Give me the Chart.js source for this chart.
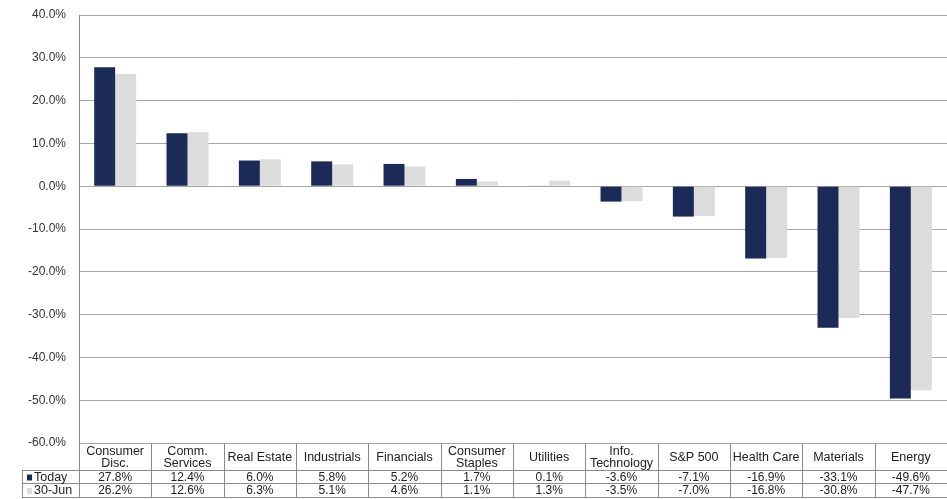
<!DOCTYPE html>
<html>
<head>
<meta charset="utf-8">
<script src="https://cdn.jsdelivr.net/npm/chart.js@4"></script>
<style>
  html, body { margin: 0; padding: 0; background: #fff; }
  #wrap { width: 947px; height: 499px; }
</style>
</head>
<body>
<div id="wrap"><canvas id="myChart" width="947" height="499"></canvas></div>
<script>
// categorias y valores
const categories = [
    ['Consumer', 'Disc.'], ['Comm.', 'Services'], 'Real Estate', 'Industrials', 'Financials',
    ['Consumer', 'Staples'], 'Utilities', ['Info.', 'Technology'], 'S&P 500', 'Health Care',
    'Materials', 'Energy'
];
const todayValues = [27.8, 12.4, 6.0, 5.8, 5.2, 1.7, 0.1, -3.6, -7.1, -16.9, -33.1, -49.6];
const juneValues = [26.2, 12.6, 6.3, 5.1, 4.6, 1.1, 1.3, -3.5, -7.0, -16.8, -30.8, -47.7];
const seriesNames = ['Today', '30-Jun'];
const yTicks = [40, 30, 20, 10, 0, -10, -20, -30, -40, -50, -60];

const NAVY = '#1b2a57';
const GREY = '#dcdcdc';
const FONT = '"Liberation Sans", Arial, sans-serif';

// tabla de datos debajo del grafico
const dataTable = {
    id: 'dataTable',
    afterDraw(chart) {
        const ctx = chart.ctx;
        const area = chart.chartArea;
        const x = chart.scales.x;
        const n = categories.length;
        const colW = (area.right - area.left) / n;
        const top = area.bottom;
        const headBottom = top + 27;
        const row1 = headBottom + 13;
        const row2 = row1 + 14;
        const legendLeft = 22;

        ctx.save();
        ctx.strokeStyle = '#8c8c8c';
        ctx.lineWidth = 1;
        ctx.beginPath();
        // lineas horizontales
        [headBottom, row1, row2].forEach(y => {
            ctx.moveTo(legendLeft, y + 0.5);
            ctx.lineTo(area.right, y + 0.5);
        });
        // lineas verticales
        for (let i = 0; i <= n; i++) {
            const xx = Math.round(area.left + i * colW) + 0.5;
            ctx.moveTo(xx, top);
            ctx.lineTo(xx, row2);
        }
        ctx.moveTo(legendLeft + 0.5, headBottom);
        ctx.lineTo(legendLeft + 0.5, row2);
        ctx.stroke();

        ctx.fillStyle = '#222';
        ctx.textAlign = 'center';
        ctx.textBaseline = 'middle';
        categories.forEach((c, i) => {
            const cx = x.getPixelForValue(i);
            const lines = Array.isArray(c) ? c : [c];
            const mid = (top + headBottom) / 2 + 1;
            ctx.font = '12.5px ' + FONT;
            lines.forEach((l, j) => {
                ctx.fillText(l, cx, mid + (j - (lines.length - 1) / 2) * 12);
            });
            ctx.font = '12px ' + FONT;
            ctx.fillText(todayValues[i].toFixed(1) + '%', cx, (headBottom + row1) / 2 + 1);
            ctx.fillText(juneValues[i].toFixed(1) + '%', cx, (row1 + row2) / 2 + 1);
        });

        // leyenda en la primera columna
        ctx.textAlign = 'left';
        ctx.font = '12.5px ' + FONT;
        [[NAVY, seriesNames[0], (headBottom + row1) / 2 + 1], [GREY, seriesNames[1], (row1 + row2) / 2 + 1]].forEach(([col, name, y]) => {
            ctx.fillStyle = col;
            ctx.fillRect(27, y - 3, 5, 6);
            ctx.fillStyle = '#222';
            ctx.fillText(name, 34, y);
        });
        ctx.restore();
    }
};

const ctx = document.getElementById('myChart').getContext('2d');
const myChart = new Chart(ctx, {
    type: 'bar',
    data: {
        labels: categories,
        datasets: [{
            label: seriesNames[0],
            data: todayValues,
            backgroundColor: NAVY,
            borderWidth: 0
        }, {
            label: seriesNames[1],
            data: juneValues,
            backgroundColor: GREY,
            borderWidth: 0
        }]
    },
    options: {
        responsive: false,
        animation: false,
        categoryPercentage: 0.58,
        barPercentage: 1.0,
        layout: {
            padding: { top: 15, bottom: 56, left: 0, right: 0 }
        },
        plugins: {
            legend: { display: false },
            tooltip: { enabled: false }
        },
        scales: {
            x: {
                display: false
            },
            y: {
                min: -60,
                max: 40,
                afterBuildTicks: (scale) => {
                    scale.ticks = yTicks.map(v => ({ value: v }));
                },
                afterFit: (scale) => {
                    scale.width = 79;
                    scale.paddingTop = 0;
                    scale.paddingBottom = 0;
                },
                ticks: {
                    callback: (v) => v.toFixed(1) + '%',
                    font: { family: FONT, size: 12 },
                    color: '#333',
                    padding: 13
                },
                grid: {
                    color: '#a6a6a6',
                    lineWidth: 1,
                    drawTicks: false
                },
                border: {
                    color: '#8c8c8c'
                }
            }
        }
    },
    plugins: [dataTable]
});
</script>
</body>
</html>
